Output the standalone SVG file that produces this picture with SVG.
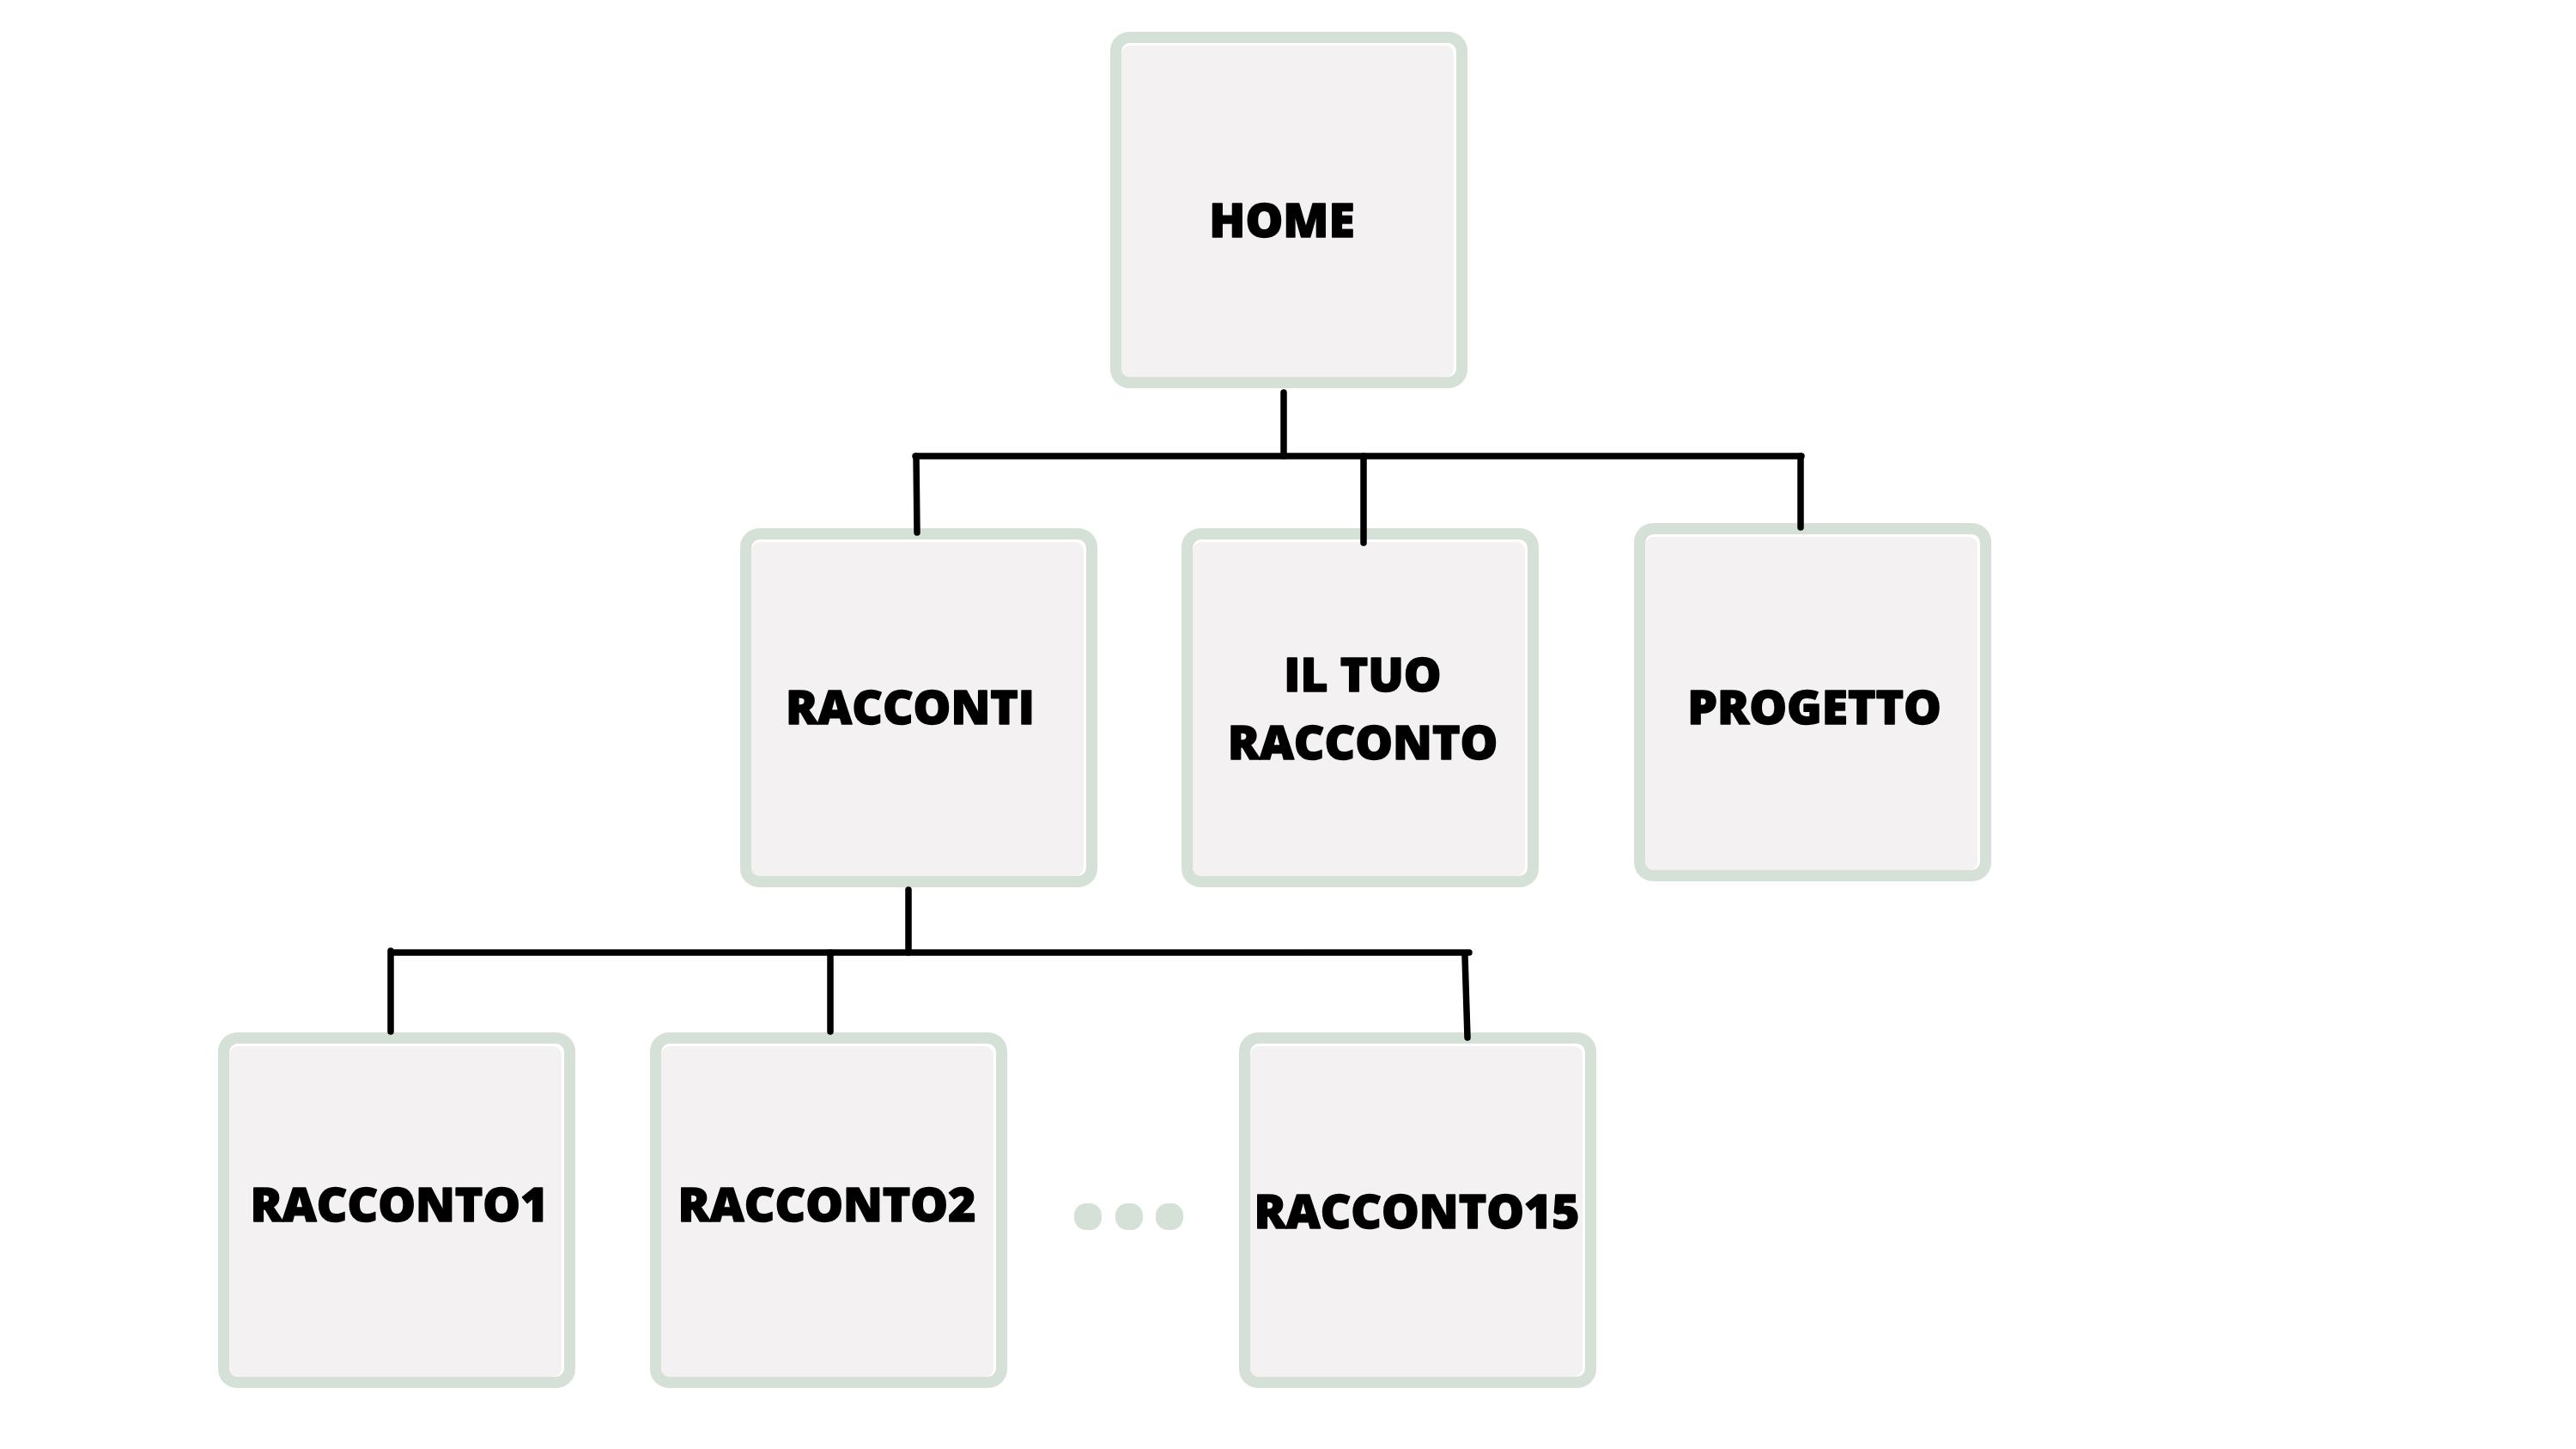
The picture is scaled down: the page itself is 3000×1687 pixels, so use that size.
<svg xmlns="http://www.w3.org/2000/svg" width="3000" height="1687" viewBox="0 0 3000 1687">
<defs>
<style>
.frame{fill:#D5E1D6}
.hl{fill:#FFFFFF}
.face{fill:#F3F1F2}
.lbl{font-family:"Open Sans","Noto Sans","Liberation Sans",sans-serif;font-weight:800;font-size:55px;fill:#000;stroke:#000;stroke-width:1.5;stroke-linejoin:round;text-anchor:middle}
.wire{fill:none;stroke:#000;stroke-width:7.5;stroke-linecap:round}
.dot{fill:#D5E1D6}
</style>
</defs>
<rect width="3000" height="1687" fill="#FFFFFF"/>
<g id="home">
<rect class="frame" x="1293" y="37" width="416" height="415" rx="22"/>
<rect class="hl" x="1306" y="50" width="390" height="389" rx="10"/>
<rect class="face" x="1306" y="53" width="387" height="386" rx="10"/>
<text class="lbl" x="1493" y="276">HOME</text>
</g>
<g id="racconti">
<rect class="frame" x="862" y="615" width="416" height="418" rx="22"/>
<rect class="hl" x="875" y="628" width="390" height="392" rx="10"/>
<rect class="face" x="875" y="631" width="387" height="389" rx="10"/>
<text class="lbl" x="1060" y="843">RACCONTI</text>
</g>
<g id="il-tuo-racconto">
<rect class="frame" x="1376" y="615" width="416" height="418" rx="22"/>
<rect class="hl" x="1389" y="628" width="390" height="392" rx="10"/>
<rect class="face" x="1389" y="631" width="387" height="389" rx="10"/>
<text class="lbl" x="1587" y="805">IL TUO</text>
<text class="lbl" x="1587" y="884">RACCONTO</text>
</g>
<g id="progetto">
<rect class="frame" x="1903" y="609" width="416" height="417" rx="22"/>
<rect class="hl" x="1916" y="622" width="390" height="391" rx="10"/>
<rect class="face" x="1916" y="625" width="387" height="388" rx="10"/>
<text class="lbl" x="2113" y="843">PROGETTO</text>
</g>
<g id="racconto1">
<rect class="frame" x="254" y="1202" width="416" height="414" rx="22"/>
<rect class="hl" x="267" y="1215" width="390" height="388" rx="10"/>
<rect class="face" x="267" y="1218" width="387" height="385" rx="10"/>
<text class="lbl" x="465" y="1422">RACCONTO1</text>
</g>
<g id="racconto2">
<rect class="frame" x="757" y="1202" width="416" height="414" rx="22"/>
<rect class="hl" x="770" y="1215" width="390" height="388" rx="10"/>
<rect class="face" x="770" y="1218" width="387" height="385" rx="10"/>
<text class="lbl" x="963" y="1422">RACCONTO2</text>
</g>
<g id="ellipsis">
<rect class="dot" x="1251" y="1401" width="32" height="31" rx="14"/>
<rect class="dot" x="1299" y="1401" width="32" height="31" rx="14"/>
<rect class="dot" x="1346" y="1401" width="32" height="31" rx="14"/>
</g>
<g id="racconto15">
<rect class="frame" x="1443" y="1202" width="416" height="414" rx="22"/>
<rect class="hl" x="1456" y="1215" width="390" height="388" rx="10"/>
<rect class="face" x="1456" y="1218" width="387" height="385" rx="10"/>
<text class="lbl" x="1650" y="1430">RACCONTO15</text>
</g>
<g id="connectors">
<path class="wire" d="M1495 457 V531"/>
<path class="wire" d="M1066 531 H2098"/>
<path class="wire" d="M1067 531 L1068 620"/>
<path class="wire" d="M1588 531 V632"/>
<path class="wire" d="M2097 531 V614"/>
<path class="wire" d="M1058 1036 V1109"/>
<path class="wire" d="M458 1109 H1711"/>
<path class="wire" d="M455 1107 V1201"/>
<path class="wire" d="M967 1109 V1201"/>
<path class="wire" d="M1706 1113 L1709 1208"/>
</g>
</svg>
